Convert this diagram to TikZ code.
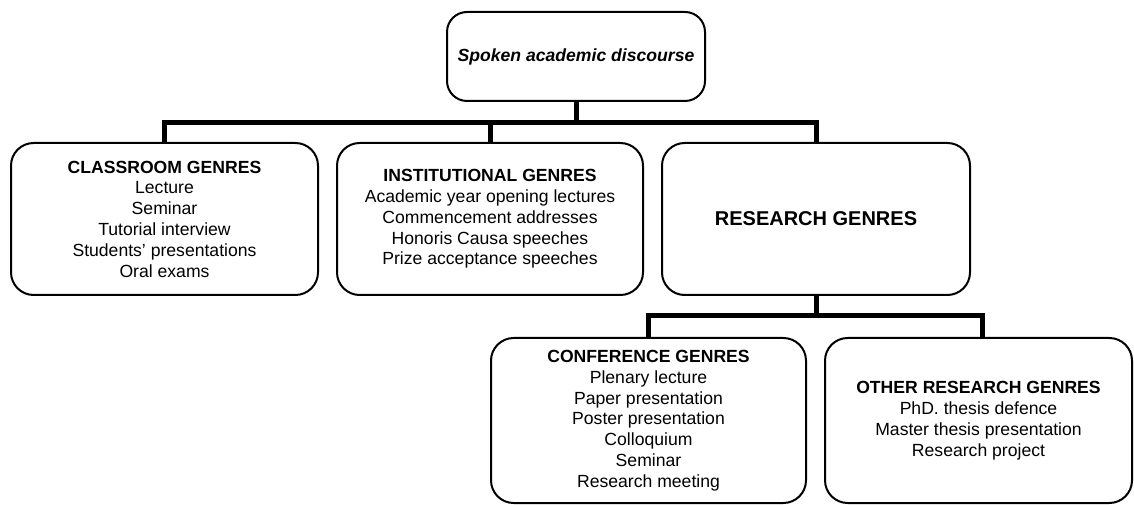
\documentclass[tikz,border=0pt]{standalone}
\usepackage{fontspec}
\setmainfont{Liberation Sans}
\begin{document}
\begin{tikzpicture}[x=0.75pt,y=-0.75pt,
  box/.style={draw, line width=1.5pt, rounded corners=17pt, align=center, inner sep=0pt,
    font=\fontsize{13.2}{15.6}\selectfont},
  conn/.style={line width=3.75pt, line join=miter}]
\useasboundingbox (0,0) rectangle (1134,505);
\node[box, minimum width=193.5pt, minimum height=66.75pt, rounded corners=15pt] (top) at (576,56.5)
  {\textbf{\textit{Spoken academic discourse}}};
\node[box, minimum width=230.25pt, minimum height=114pt] (class) at (164.5,219)
  {\textbf{CLASSROOM GENRES}\\Lecture\\Seminar\\Tutorial interview\\Students’ presentations\\Oral exams};
\node[box, minimum width=229.5pt, minimum height=114pt] (inst) at (490,219)
  {\textbf{INSTITUTIONAL GENRES}\\Academic year opening lectures\\Commencement addresses\\Honoris Causa speeches\\Prize acceptance speeches};
\node[box, minimum width=231pt, minimum height=114pt, font=\fontsize{15}{18}\selectfont\bfseries] (res) at (816,219)
  {RESEARCH GENRES};
\node[box, minimum width=236.25pt, minimum height=123.75pt] (conf) at (648.5,420.5)
  {\textbf{CONFERENCE GENRES}\\Plenary lecture\\Paper presentation\\Poster presentation\\Colloquium\\Seminar\\Research meeting};
\node[box, minimum width=230.25pt, minimum height=123.75pt] (other) at (978.5,420.5)
  {\textbf{OTHER RESEARCH GENRES}\\PhD. thesis defence\\Master thesis presentation\\Research project};
\coordinate (bus1) at (576,123);
\coordinate (bus2) at (816,316);
\coordinate (otherdrop) at ([xshift=3pt]other.north);
\draw[conn] (top.south) -- (bus1);
\draw[conn] (class.north) |- (bus1) -| (res.north);
\draw[conn] (inst.north) -- (inst.north |- bus1);
\draw[conn] (res.south) -- (bus2);
\draw[conn] (conf.north) |- (bus2) -| (otherdrop);
\end{tikzpicture}
\end{document}
